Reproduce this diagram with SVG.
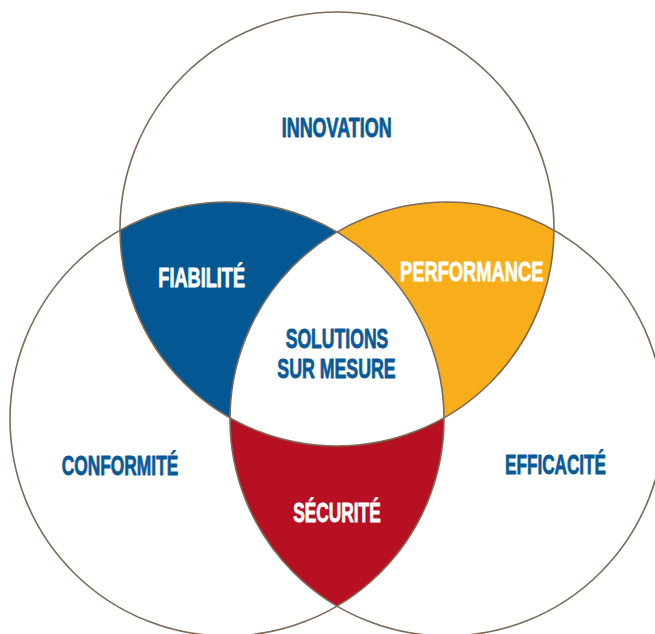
<svg xmlns="http://www.w3.org/2000/svg" width="655" height="634" viewBox="0 0 655 634">
  <style>
    .ring { fill: none; stroke: #7d6b57; stroke-width: 1.6; }
    .lbl { font-family: "Liberation Sans", Arial, sans-serif; font-weight: bold; font-size: 27px; text-anchor: middle; stroke-width: 0.8; stroke-linejoin: round; }
    .blue { fill: #0a5a98; stroke: #0a5a98; }
    .white { fill: #ffffff; stroke: #ffffff; }
  </style>
  <rect width="655" height="634" fill="#ffffff"/>
  <g id="fiabilite">
    <path d="M120,230.2 A217,217 0 0,1 337,231.95 A217,217 0 0,0 230,417.8 A217,217 0 0,1 120,230.2 Z" fill="#035893"/>
  </g>
  <g id="performance">
    <path d="M554,230.2 A217,217 0 0,0 337,231.95 A217,217 0 0,1 444,417.8 A217,217 0 0,0 554,230.2 Z" fill="#f8ae1b"/>
  </g>
  <g id="securite">
    <path d="M230,417.8 A217,217 0 0,0 444,417.8 A217,217 0 0,1 337,606.05 A217,217 0 0,1 230,417.8 Z" fill="#b81023"/>
  </g>
  <g id="circles">
    <circle id="innovation-circle" class="ring" cx="337" cy="229" r="217"/>
    <circle id="conformite-circle" class="ring" cx="227" cy="419" r="217"/>
    <circle id="efficacite-circle" class="ring" cx="447" cy="419" r="217"/>
  </g>
  <g id="labels">
    <text class="lbl blue" transform="translate(336.7,136.7) scale(0.66,1)" textLength="166.7" lengthAdjust="spacingAndGlyphs">INNOVATION</text>
    <text class="lbl white" transform="translate(201.7,287.3) scale(0.66,1)" textLength="131.4" lengthAdjust="spacingAndGlyphs">FIABILITÉ</text>
    <text class="lbl white" transform="translate(471.7,281) scale(0.66,1)" textLength="217.1" lengthAdjust="spacingAndGlyphs">PERFORMANCE</text>
    <text class="lbl blue" transform="translate(337,347.7) scale(0.66,1)" textLength="155.5" lengthAdjust="spacingAndGlyphs">SOLUTIONS</text>
    <text class="lbl blue" transform="translate(336.5,378.3) scale(0.66,1)" textLength="179.4" lengthAdjust="spacingAndGlyphs">SUR MESURE</text>
    <text class="lbl blue" transform="translate(120,475) scale(0.66,1)" textLength="176.7" lengthAdjust="spacingAndGlyphs">CONFORMITÉ</text>
    <text class="lbl blue" transform="translate(555.5,474.3) scale(0.66,1)" textLength="153" lengthAdjust="spacingAndGlyphs">EFFICACITÉ</text>
    <text class="lbl white" transform="translate(337,521.7) scale(0.66,1)" textLength="132.4" lengthAdjust="spacingAndGlyphs">SÉCURITÉ</text>
  </g>
</svg>
